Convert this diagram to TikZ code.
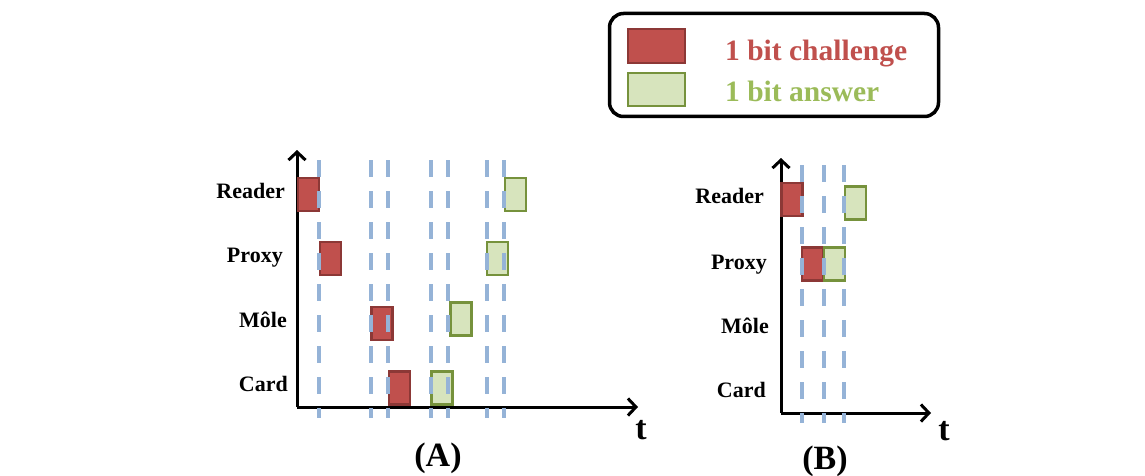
\documentclass[tikz,border=0pt]{standalone}
\usepackage{fontspec}
\setmainfont{Liberation Serif}
\usetikzlibrary{arrows.meta}

\definecolor{chred}{RGB}{192,80,77}
\definecolor{chredline}{RGB}{140,56,54}
\definecolor{ansgreen}{RGB}{215,228,189}
\definecolor{ansgreenline}{RGB}{118,146,60}
\definecolor{anstext}{RGB}{155,187,89}
\definecolor{slotblue}{RGB}{149,179,215}

\begin{document}
\begin{tikzpicture}[x=1pt, y=-1pt,
    chal/.style={draw=chredline, fill=chred, line width=2.5pt, minimum width=21pt, minimum height=33pt, inner sep=0pt},
    ans/.style={draw=ansgreenline, fill=ansgreen, line width=2.5pt, minimum width=21pt, minimum height=33pt, inner sep=0pt},
    slot/.style={slotblue, line width=4.5pt, dash pattern=on 17pt off 14pt},
    axis/.style={line width=3pt, -{Straight Barb[length=8pt, width=17pt, line width=3pt]}},
    who/.style={font=\bfseries\fontsize{22}{24}\selectfont, anchor=base east, inner sep=0pt},
    big/.style={font=\bfseries\fontsize{34}{36}\selectfont, anchor=base, inner sep=0pt}]
    \useasboundingbox (0,0) rectangle (1145,476);

    % Legend
    \node[draw, line width=3.5pt, rounded corners=14pt, minimum width=329pt, minimum height=103pt] (legend) at (774,65) {};
    \node[chal, minimum width=57pt, minimum height=34pt] (keychal) at (656.5,46) {};
    \node[ans, minimum width=57pt, minimum height=33pt] (keyans) at (656.5,89.5) {};
    \node[anchor=base west, inner sep=0pt, text=chred, font=\bfseries\fontsize{29.5}{31}\selectfont] (chaltext) at (725,61) {1 bit challenge};
    \node[anchor=base west, inner sep=0pt, text=anstext, font=\bfseries\fontsize{29.5}{31}\selectfont] (anstext) at (725,102) {1 bit answer};

    % (A) axes
    \coordinate (oA) at (297,407);
    \coordinate (yA) at (297,150);
    \coordinate (xA) at (638,407);
    \draw[axis] (oA) -- (yA);
    \draw[axis] (oA) -- (xA);
    \node[who] (readerA) at (285,198) {Reader};
    \node[who] (proxyA) at (283,262) {Proxy};
    \node[who] (moleA) at (287,327) {Môle};
    \node[who] (cardA) at (288,391) {Card};
    \node[big] (tA) at (641,439) {t};
    \node[big] (labA) at (438,466) {(A)};

    % (A) bits
    \node[chal] (c1A) at (308.5,194.5) {};
    \node[chal] (c2A) at (330.5,258.5) {};
    \node[chal] (c3A) at (382,323.5) {};
    \node[chal] (c4A) at (399.5,388) {};
    \node[ans] (a1A) at (515.5,194.5) {};
    \node[ans] (a2A) at (497.5,258.5) {};
    \node[ans] (a3A) at (461,319) {};
    \node[ans] (a4A) at (442,388) {};

    % (A) time slots
    \foreach \x in {319,371,388,431,448,487,504}
        \draw[slot] (\x,160) -- (\x,418);

    % (B) axes
    \coordinate (oB) at (781,413);
    \coordinate (yB) at (781,158);
    \coordinate (xB) at (931,413);
    \draw[axis] (oB) -- (yB);
    \draw[axis] (oB) -- (xB);
    \node[who] (readerB) at (764,203) {Reader};
    \node[who] (proxyB) at (767,269) {Proxy};
    \node[who] (moleB) at (769,333) {Môle};
    \node[who] (cardB) at (766,397) {Card};
    \node[big] (tB) at (944,440) {t};
    \node[big] (labB) at (825,469) {(B)};

    % (B) bits
    \node[chal] (c1B) at (792,199.5) {};
    \node[chal] (c2B) at (812.5,264) {};
    \node[ans] (a1B) at (855.5,203) {};
    \node[ans] (a2B) at (834.5,264) {};

    % (B) time slots
    \foreach \x in {802,824,844}
        \draw[slot] (\x,165) -- (\x,423);
\end{tikzpicture}
\end{document}
